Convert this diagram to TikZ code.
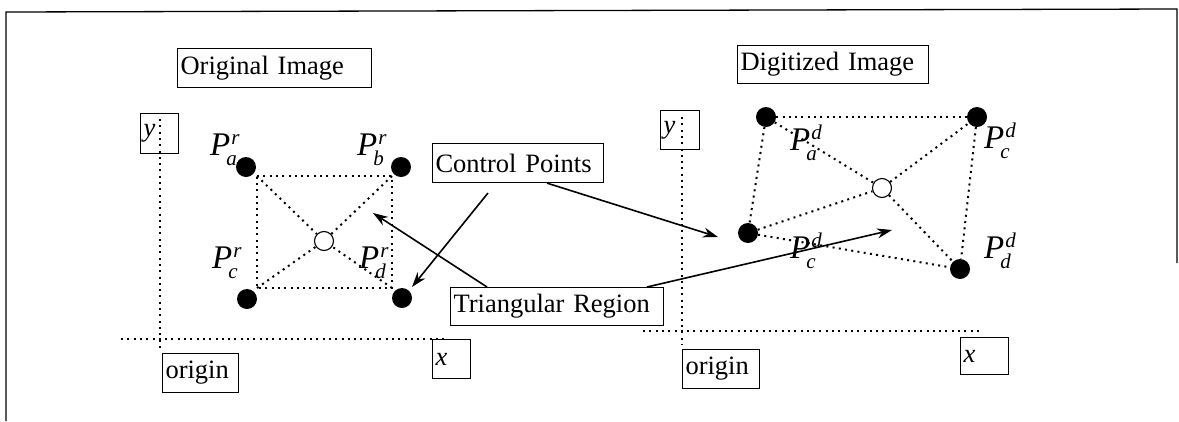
\documentclass[tikz,border=0pt]{standalone}
\usepackage{fontspec}
\setmainfont{Liberation Serif}
\usetikzlibrary{arrows.meta}
\tikzset{
  box/.style={draw, line width=1.1pt, anchor=north west, inner xsep=3pt, inner ysep=0pt,
    align=left, font=\fontsize{26.5}{30}\selectfont},
  dotline/.style={line width=2pt, dash pattern=on 2pt off 4.3pt},
  fdot/.style={circle, fill=black, inner sep=0pt, minimum size=20pt},
  odot/.style={circle, draw, fill=white, line width=1.1pt, inner sep=0pt, minimum size=19pt},
  plbl/.style={anchor=base west, inner sep=0pt, font=\fontsize{33}{36}\selectfont},
  arr/.style={line width=1.6pt, -{Stealth[length=15pt, width=10pt]}},
  frame/.style={line width=1.3pt}
}
\newcommand{\Plab}[2]{\textit{P}\hspace{-4pt}\rlap{\hspace{5pt}\raisebox{11pt}{\fontsize{21}{21}\selectfont\textit{#2}}}\raisebox{-10pt}{\fontsize{21}{21}\selectfont\textit{#1}}}
\begin{document}
\begin{tikzpicture}[x=1pt,y=-1pt]
\useasboundingbox (0,0) rectangle (1179,421);
% frame
\draw[frame] (6,421) -- (6,12) -- (1177,9) -- (1177,263);

% title boxes
\node[box, text width=188pt, minimum height=39pt] (orig) at (177,48) {Original Image};
\node[box, text width=185pt, minimum height=38pt] (digit) at (737,45) {Digitized Image};

% left axes
\node[box, text width=32pt, minimum height=40pt] (yl) at (140,113) {\textit{y}};
\node[box, text width=70pt, minimum height=39pt] (ol) at (162,353) {origin};
\node[box, text width=32pt, minimum height=39pt] (xl) at (432,339) {\textit{x}};
\coordinate (ylt) at (160,119);
\coordinate (ylb) at (160,352);
\coordinate (xll) at (121,339);
\coordinate (xlr) at (448,339);
\draw[dotline] (ylt) -- (ylb);
\draw[dotline] (xll) -- (xlr);

% right axes
\node[box, text width=33pt, minimum height=39pt] (yr) at (660,110) {\textit{y}};
\node[box, text width=71pt, minimum height=39pt] (orr) at (682,349) {origin};
\node[box, text width=42pt, minimum height=37pt] (xr) at (960,337) {\textit{x}};
\coordinate (yrt) at (682,117);
\coordinate (yrb) at (682,345);
\coordinate (xrl) at (643,331);
\coordinate (xrr) at (983,331);
\draw[dotline] (yrt) -- (yrb);
\draw[dotline] (xrl) -- (xrr);

% left control points
\node[fdot] (pa) at (246,167) {};
\node[fdot] (pb) at (401,167) {};
\node[fdot] (pc) at (247,299) {};
\node[fdot] (pd) at (402,298) {};
\coordinate (ra) at (257,176);
\coordinate (rb) at (392,176);
\coordinate (rc) at (257,288);
\coordinate (rd) at (392,288);
\node[odot] (cl) at (324,241) {};
\draw[dotline] (ra) -- (rb) -- (rd) -- (rc) -- cycle;
\draw[dotline] (ra) -- (cl);
\draw[dotline] (rb) -- (cl);
\draw[dotline] (rc) -- (cl);
\draw[dotline] (rd) -- (cl);
\node[plbl] (la) at (210,155) {\Plab{a}{r}};
\node[plbl] (lb) at (357,155) {\Plab{b}{r}};
\node[plbl] (lc) at (212,268) {\Plab{c}{r}};
\node[plbl] (ld) at (359,268) {\Plab{d}{r}};

% right control points
\node[fdot] (qa) at (766,117) {};
\node[fdot] (qb) at (977,117) {};
\node[fdot] (qc) at (748,233) {};
\node[fdot] (qd) at (960,269) {};
\node[odot] (cr) at (882,188) {};
\draw[dotline] (qa) -- (qb);
\draw[dotline] (qa) -- (qc);
\draw[dotline] (qb) -- (qd);
\draw[dotline] (qc) -- (qd);
\draw[dotline] (qa) -- (cr);
\draw[dotline] (cr) -- (qd);
\draw[dotline] (qc) -- (cr);
\draw[dotline] (cr) -- (qb);
\node[plbl] (ma) at (790,150) {\Plab{a}{d}};
\node[plbl] (mc) at (790,258) {\Plab{c}{d}};
\node[plbl] (mb) at (984,148) {\Plab{c}{d}};
\node[plbl] (md) at (984,258) {\Plab{d}{d}};

% callouts
\node[box, text width=165pt, minimum height=39pt] (cp) at (432,143) {Control Points};
\node[box, text width=207pt, minimum height=38pt] (tr) at (450,287) {Triangular Region};
\coordinate (cps) at (488,193);
\coordinate (cpt1) at (412,287);
\coordinate (cpt2) at (718,237);
\coordinate (trt1) at (373,213);
\coordinate (trt2) at (892,230);
\draw[arr] (cps) -- (cpt1);
\draw[arr] (cp.south west) ++(115,0) coordinate (cpo) -- (cpt2);
\draw[arr] (tr.north west) ++(37,0) coordinate (tro1) -- (trt1);
\draw[arr] (tr.north west) ++(197,0) coordinate (tro2) -- (trt2);
\end{tikzpicture}
\end{document}
